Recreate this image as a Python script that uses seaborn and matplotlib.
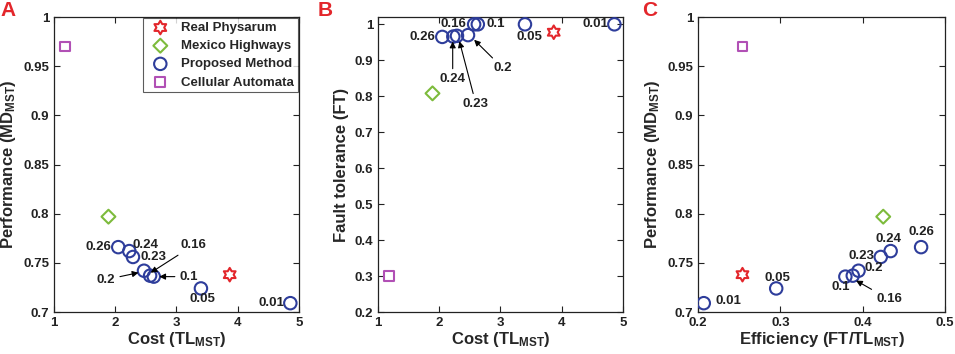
import numpy as np
import pandas as pd
import matplotlib
matplotlib.use('Agg')
import matplotlib.pyplot as plt
import seaborn as sns
from matplotlib.path import Path
from matplotlib.ticker import FuncFormatter, MultipleLocator

# --- values ---
ALPHAS = ['0.01', '0.05', '0.1', '0.16', '0.2', '0.23', '0.24', '0.26']
PM_COST = [4.86, 3.40, 2.63, 2.57, 2.47, 2.29, 2.23, 2.05]
PM_PERF = [0.709, 0.724, 0.736, 0.737, 0.742, 0.756, 0.762, 0.766]
PM_FT = [1.0, 1.0, 1.0, 1.0, 0.970, 0.968, 0.966, 0.965]
PM_EFF = [0.207, 0.295, 0.379, 0.388, 0.395, 0.422, 0.434, 0.471]

REF_METHODS = ['Real Physarum', 'Mexico Highways', 'Cellular Automata']
REF_COST = [3.87, 1.89, 1.18]
REF_PERF = [0.738, 0.797, 0.970]
REF_FT = [0.978, 0.808, 0.300]
REF_EFF = [0.254, 0.425, 0.254]

LEGEND_ORDER = ['Real Physarum', 'Mexico Highways', 'Proposed Method', 'Cellular Automata']

# --- style ---
sns.set_style('ticks')
plt.rcParams['font.family'] = ['Liberation Sans', 'DejaVu Sans']
plt.rcParams['font.weight'] = 'bold'
plt.rcParams['mathtext.fontset'] = 'custom'
plt.rcParams['mathtext.bf'] = 'Liberation Sans:bold'
plt.rcParams['mathtext.rm'] = 'Liberation Sans:bold'
plt.rcParams['mathtext.default'] = 'bf'

# six-pointed star outline (MATLAB 'hexagram')
ang = np.deg2rad(np.arange(12) * 30 + 90)
rad = np.where(np.arange(12) % 2 == 0, 1.0, 1 / np.sqrt(3))
HEXAGRAM = Path(np.column_stack([rad * np.cos(ang), rad * np.sin(ang)]), closed=True)
HEXAGRAM = Path(np.vstack([HEXAGRAM.vertices, HEXAGRAM.vertices[:1]]), closed=True)

STYLE = {
    'Real Physarum': dict(marker=HEXAGRAM, s=95, color='#E3262B'),
    'Mexico Highways': dict(marker='D', s=50, color='#7DBB3C'),
    'Proposed Method': dict(marker='o', s=80, color='#2E3D9B'),
    'Cellular Automata': dict(marker='s', s=48, color='#B150B5'),
}

rows = []
for a, c, p, f, e in zip(ALPHAS, PM_COST, PM_PERF, PM_FT, PM_EFF):
    rows.append(dict(method='Proposed Method', alpha=a, cost=c, perf=p, ft=f, eff=e))
for m, c, p, f, e in zip(REF_METHODS, REF_COST, REF_PERF, REF_FT, REF_EFF):
    rows.append(dict(method=m, alpha='', cost=c, perf=p, ft=f, eff=e))
df = pd.DataFrame(rows)

fmt = FuncFormatter(lambda v, pos: f'{v:g}')


def draw_panel(ax, xcol, ycol, with_legend):
    for m in LEGEND_ORDER:
        st = STYLE[m]
        sns.scatterplot(data=df[df['method'] == m], x=xcol, y=ycol, ax=ax,
                        marker=st['marker'], s=st['s'], facecolor='none',
                        edgecolor=st['color'], linewidth=1.5, label=m, legend=False,
                        zorder=3)
    ax.tick_params(direction='in', top=True, right=True, labelsize=9.5,
                   length=4, width=0.8, colors='#222222')
    for sp in ax.spines.values():
        sp.set_linewidth(0.9)
        sp.set_color('#222222')
    ax.xaxis.set_major_formatter(fmt)
    ax.yaxis.set_major_formatter(fmt)
    if with_legend:
        leg = ax.legend(loc='upper right', frameon=True, fancybox=False,
                        edgecolor='#333333', borderaxespad=0.05, fontsize=9.5,
                        handletextpad=0.6, labelspacing=0.45, borderpad=0.3,
                        scatterpoints=1)
        leg.get_frame().set_linewidth(0.8)
    elif ax.get_legend() is not None:
        ax.get_legend().remove()


def label_points(ax, specs):
    for txt, xy_text, ha, tip in specs:
        if tip is None:
            ax.text(xy_text[0], xy_text[1], txt, ha=ha, va='center',
                    fontsize=9.5, fontweight='bold', color='#222222', zorder=4)
        else:
            ax.annotate(txt, xy=tip, xytext=xy_text, ha=ha, va='center',
                        fontsize=9.5, fontweight='bold', color='#222222',
                        arrowprops=dict(arrowstyle='-|>', color='black', lw=0.8,
                                        mutation_scale=9, shrinkA=1, shrinkB=0),
                        zorder=4)


fig = plt.figure(figsize=(9.55, 3.54), dpi=100)
axA = fig.add_axes([0.0565, 0.1186, 0.2565, 0.833])
axB = fig.add_axes([0.3958, 0.1186, 0.2565, 0.833])
axC = fig.add_axes([0.7309, 0.1186, 0.2586, 0.833])

# A: cost vs performance
draw_panel(axA, 'cost', 'perf', True)
axA.set_xlim(1, 5)
axA.set_ylim(0.7, 1.0)
axA.xaxis.set_major_locator(MultipleLocator(1))
axA.yaxis.set_major_locator(MultipleLocator(0.05))
axA.set_xlabel('Cost (TL$_{MST}$)', fontsize=12, fontweight='bold', labelpad=1)
axA.set_ylabel('Performance (MD$_{MST}$)', fontsize=12, fontweight='bold', labelpad=4)
label_points(axA, [
    ('0.26', (1.94, 0.766), 'right', None),
    ('0.24', (2.50, 0.768), 'center', None),
    ('0.23', (2.62, 0.756), 'center', None),
    ('0.16', (3.07, 0.768), 'left', (2.58, 0.740)),
    ('0.2', (1.70, 0.733), 'left', (2.38, 0.740)),
    ('0.1', (3.05, 0.736), 'left', (2.72, 0.736)),
    ('0.05', (3.43, 0.713), 'center', None),
    ('0.01', (4.77, 0.709), 'right', None),
])

# B: cost vs fault tolerance
draw_panel(axB, 'cost', 'ft', False)
axB.set_xlim(1, 5)
axB.set_ylim(0.2, 1.02)
axB.xaxis.set_major_locator(MultipleLocator(1))
axB.yaxis.set_major_locator(MultipleLocator(0.1))
axB.set_xlabel('Cost (TL$_{MST}$)', fontsize=12, fontweight='bold', labelpad=1)
axB.set_ylabel('Fault tolerance (FT)', fontsize=12, fontweight='bold', labelpad=4)
label_points(axB, [
    ('0.26', (1.94, 0.966), 'right', None),
    ('0.16', (2.24, 1.0), 'center', None),
    ('0.1', (2.78, 1.0), 'left', None),
    ('0.05', (3.47, 0.964), 'center', None),
    ('0.01', (4.76, 1.0), 'right', None),
    ('0.24', (2.22, 0.847), 'center', (2.22, 0.952)),
    ('0.23', (2.60, 0.778), 'center', (2.33, 0.953)),
    ('0.2', (3.04, 0.878), 'center', (2.57, 0.957)),
])

# C: efficiency vs performance
draw_panel(axC, 'eff', 'perf', False)
axC.set_xlim(0.2, 0.5)
axC.set_ylim(0.7, 1.0)
axC.xaxis.set_major_locator(MultipleLocator(0.1))
axC.yaxis.set_major_locator(MultipleLocator(0.05))
axC.set_xlabel('Efficiency (FT/TL$_{MST}$)', fontsize=12, fontweight='bold', labelpad=1)
axC.set_ylabel('Performance (MD$_{MST}$)', fontsize=12, fontweight='bold', labelpad=4)
label_points(axC, [
    ('0.01', (0.221, 0.711), 'left', None),
    ('0.05', (0.296, 0.735), 'center', None),
    ('0.1', (0.374, 0.725), 'center', None),
    ('0.16', (0.432, 0.713), 'center', (0.392, 0.732)),
    ('0.2', (0.414, 0.745), 'center', None),
    ('0.23', (0.399, 0.757), 'center', None),
    ('0.24', (0.431, 0.774), 'center', None),
    ('0.26', (0.471, 0.781), 'center', None),
])

for letter, xpos in zip(['A', 'B', 'C'], [0.0, 0.333, 0.672]):
    fig.text(xpos, 0.998, letter, fontsize=15, fontweight='bold', color='#E3262B',
             ha='left', va='top')

fig.savefig('out.png', dpi=100)
